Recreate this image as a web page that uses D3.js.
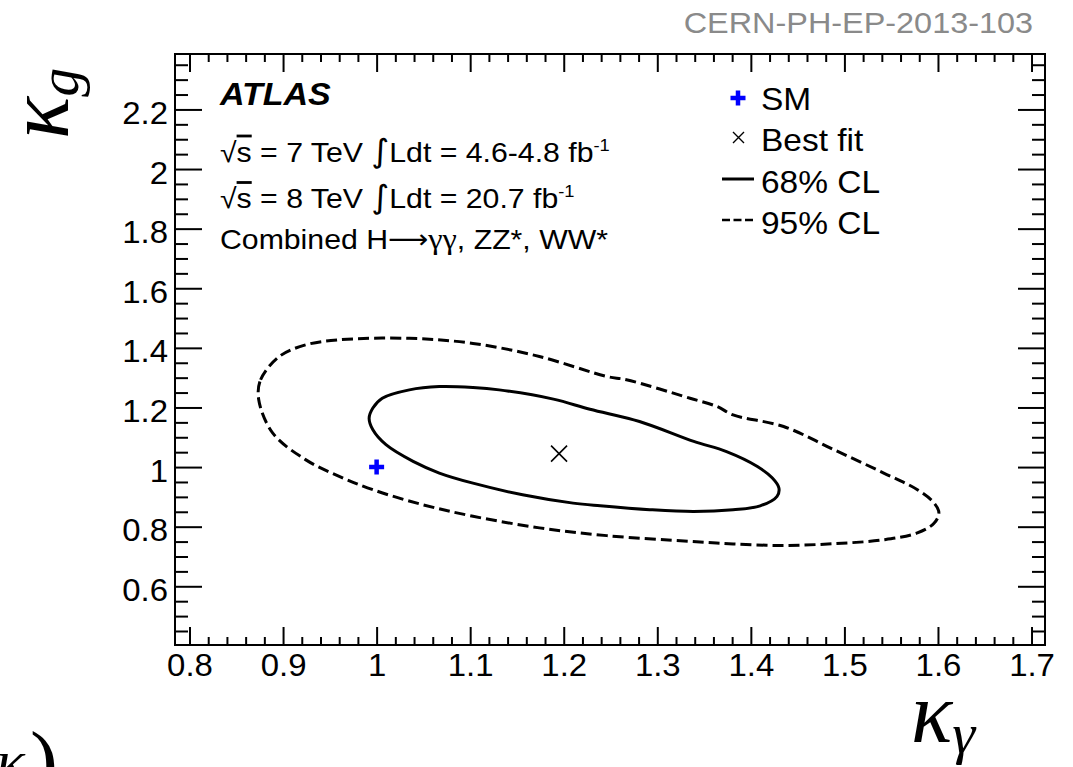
<!DOCTYPE html>
<html>
<head>
<meta charset="utf-8">
<script src="https://cdn.jsdelivr.net/npm/d3@7"></script>
<style>
  html, body { margin: 0; padding: 0; background: #fff; }
  svg { display: block; }
  text { font-family: "Liberation Sans", Arial, Helvetica, sans-serif; fill: #000; }
  .math { font-family: "Liberation Serif", "Times New Roman", serif; font-style: italic; }
</style>
</head>
<body>
<svg id="chart" width="1073" height="767"></svg>
<script>
// Likelihood contours in the (kappa_gamma, kappa_g) plane
const kappaGammaRange = [0.7845, 1.7144];
const kappaGRange = [0.403, 2.386];

const xMajorTicks = [0.8, 0.9, 1.0, 1.1, 1.2, 1.3, 1.4, 1.5, 1.6, 1.7];
const yMajorTicks = [0.6, 0.8, 1.0, 1.2, 1.4, 1.6, 1.8, 2.0, 2.2];

// 68% CL contour (kappa_gamma, kappa_g)
const cl68Gamma = [0.992, 0.996, 1.006, 1.035, 1.067, 1.103, 1.131, 1.189, 1.228, 1.281, 1.339, 1.374, 1.407, 1.423, 1.430, 1.428, 1.410, 1.381, 1.339, 1.292, 1.239, 1.210, 1.156, 1.103, 1.067, 1.039, 1.010, 0.996];
const cl68G     = [1.164, 1.198, 1.231, 1.259, 1.270, 1.267, 1.259, 1.228, 1.194, 1.153, 1.086, 1.052, 1.002, 0.963, 0.930, 0.902, 0.870, 0.857, 0.851, 0.857, 0.870, 0.879, 0.907, 0.946, 0.980, 1.019, 1.075, 1.125];

// 95% CL contour (kappa_gamma, kappa_g)
const cl95Gamma = [0.874, 0.876, 0.896, 0.924, 0.960, 1.035, 1.103, 1.174, 1.246, 1.267, 1.335, 1.364, 1.381, 1.435, 1.489, 1.542, 1.578, 1.596, 1.601, 1.596, 1.578, 1.542, 1.489, 1.435, 1.381, 1.335, 1.246, 1.174, 1.103, 1.049, 0.996, 0.960, 0.924, 0.889];
const cl95G     = [1.226, 1.293, 1.371, 1.410, 1.427, 1.432, 1.415, 1.371, 1.304, 1.293, 1.231, 1.203, 1.175, 1.136, 1.058, 0.980, 0.924, 0.879, 0.846, 0.812, 0.779, 0.756, 0.743, 0.737, 0.742, 0.751, 0.770, 0.796, 0.835, 0.874, 0.924, 0.969, 1.025, 1.114];

const bestFit = [1.195, 1.045];
const smPoint = [1.0, 1.0];

const legendLabels = ["SM", "Best fit", "68% CL", "95% CL"];
const infoLines = ["ATLAS", "√s = 7 TeV ∫Ldt = 4.6-4.8 fb", "√s = 8 TeV ∫Ldt = 20.7 fb", "Combined H", ", ZZ*, WW*"];

const frame = { left: 175, right: 1045, top: 54, bottom: 645 };
const stretch = 1.08;   // horizontal text widening

const svg = d3.select("#chart");
svg.append("rect").attr("width", 1073).attr("height", 767).attr("fill", "#fff");

const x = d3.scaleLinear().domain(kappaGammaRange).range([frame.left, frame.right]);
const y = d3.scaleLinear().domain(kappaGRange).range([frame.bottom, frame.top]);

function minorTicks(start, stop, step, majors) {
  const out = [];
  const n = Math.round((stop - start) / step);
  for (let i = 0; i <= n; i++) {
    const v = +(start + i * step).toFixed(4);
    if (!majors.some(m => Math.abs(m - v) < 1e-6)) out.push(v);
  }
  return out;
}
const xMinor = minorTicks(0.8, 1.7, 0.02, xMajorTicks);
const yMinor = minorTicks(0.45, 2.35, 0.05, yMajorTicks);

const W = frame.right - frame.left, H = frame.bottom - frame.top;
const fmt = d => (Math.round(d * 10) / 10).toString();

function styleAxis(g) {
  g.select(".domain").remove();
  g.selectAll("line").attr("stroke", "#000").attr("stroke-width", 2);
}

// bottom axis (labels) + top mirror
const gx = svg.append("g").attr("transform", `translate(0,${frame.bottom})`)
  .call(d3.axisBottom(x).tickValues(xMajorTicks).tickSize(-18).tickFormat(fmt)).call(styleAxis);
gx.selectAll("text")
  .attr("y", 0).attr("dy", 0).attr("x", 0)
  .attr("transform", `translate(0,31) scale(${stretch},1)`)
  .style("font-size", "30.5px").style("font-family", null);
svg.append("g").attr("transform", `translate(0,${frame.bottom})`)
  .call(d3.axisBottom(x).tickValues(xMinor).tickSize(-8).tickFormat("")).call(styleAxis);
svg.append("g").attr("transform", `translate(0,${frame.top})`)
  .call(d3.axisTop(x).tickValues(xMajorTicks).tickSize(-18).tickFormat("")).call(styleAxis);
svg.append("g").attr("transform", `translate(0,${frame.top})`)
  .call(d3.axisTop(x).tickValues(xMinor).tickSize(-8).tickFormat("")).call(styleAxis);

// left axis (labels) + right mirror
const gy = svg.append("g").attr("transform", `translate(${frame.left},0)`)
  .call(d3.axisLeft(y).tickValues(yMajorTicks).tickSize(-27).tickFormat(fmt)).call(styleAxis);
gy.selectAll("text")
  .attr("x", 0).attr("dy", 0).attr("y", 0)
  .attr("transform", `translate(-7,14) scale(${stretch},1)`)
  .style("font-size", "30.5px").style("font-family", null);
svg.append("g").attr("transform", `translate(${frame.left},0)`)
  .call(d3.axisLeft(y).tickValues(yMinor).tickSize(-13).tickFormat("")).call(styleAxis);
svg.append("g").attr("transform", `translate(${frame.right},0)`)
  .call(d3.axisRight(y).tickValues(yMajorTicks).tickSize(-27).tickFormat("")).call(styleAxis);
svg.append("g").attr("transform", `translate(${frame.right},0)`)
  .call(d3.axisRight(y).tickValues(yMinor).tickSize(-13).tickFormat("")).call(styleAxis);

// frame
svg.append("rect").attr("x", frame.left).attr("y", frame.top).attr("width", W).attr("height", H)
  .attr("fill", "none").attr("stroke", "#000").attr("stroke-width", 2);

// contours
const line = d3.line().x(d => x(d[0])).y(d => y(d[1])).curve(d3.curveCatmullRomClosed.alpha(0.5));
const c68 = cl68Gamma.map((v, i) => [v, cl68G[i]]);
const c95 = cl95Gamma.map((v, i) => [v, cl95G[i]]);
svg.append("path").attr("d", line(c95)).attr("fill", "none").attr("stroke", "#000")
  .attr("stroke-width", 3).attr("stroke-dasharray", "11,5");
svg.append("path").attr("d", line(c68)).attr("fill", "none").attr("stroke", "#000")
  .attr("stroke-width", 3);

// markers
function drawCross(g, cx, cy, r, w) {
  g.append("path").attr("d", `M${cx - r},${cy - r}L${cx + r},${cy + r}M${cx - r},${cy + r}L${cx + r},${cy - r}`)
    .attr("stroke", "#000").attr("stroke-width", w).attr("fill", "none");
}
function drawPlus(g, cx, cy) {
  g.append("path").attr("d", `M${cx - 7.5},${cy}L${cx + 7.5},${cy}M${cx},${cy - 7.5}L${cx},${cy + 7.5}`)
    .attr("stroke", "#0000ff").attr("stroke-width", 4.5).attr("fill", "none");
}
drawCross(svg, x(bestFit[0]), y(bestFit[1]), 8, 1.6);
drawPlus(svg, x(smPoint[0]), y(smPoint[1]));

// text helper with horizontal widening
function label(txt, px, py, size, opts = {}) {
  const t = svg.append("text")
    .attr("transform", `translate(${px},${py}) scale(${stretch},1)`)
    .style("font-size", size + "px");
  if (opts.anchor) t.attr("text-anchor", opts.anchor);
  if (opts.fill) t.style("fill", opts.fill);
  if (opts.weight) t.style("font-weight", opts.weight);
  if (opts.italic) t.style("font-style", "italic");
  t.text(txt);
  return t;
}

// experiment and dataset info
label(infoLines[0], 220, 105, 31.5, { weight: "bold", italic: true });
function infoLine(txt, py) {
  const t = label("", 220, py, 28);
  const parts = txt.split("√s");
  t.append("tspan").text("√");
  t.append("tspan").style("text-decoration", "overline").text("s");
  const rest = parts[1].split("∫");
  t.append("tspan").text(rest[0]);
  t.append("tspan").style("font-family", "'DejaVu Sans'").style("font-size", "32px").text("∫");
  t.append("tspan").text(rest[1]);
  t.append("tspan").attr("dy", -11).style("font-size", "17px").text("-1");
}
infoLine(infoLines[1], 161.5);
infoLine(infoLines[2], 208);
const l3 = label("", 220, 249, 28);
l3.append("tspan").text(infoLines[3]);
l3.append("tspan").style("font-family", "'DejaVu Sans'").style("font-size", "26px").attr("dy", -1).text("⟶");
l3.append("tspan").style("font-family", "'Liberation Serif'").style("font-size", "30px").attr("dy", 1).text("γγ");
l3.append("tspan").text(infoLines[4]);

// legend
const legX = 761;
const legY = [110, 151, 192.5, 233.5];
drawPlus(svg, 738, legY[0] - 12);
drawCross(svg, 738.5, legY[1] - 13.5, 5.5, 1.4);
svg.append("line").attr("x1", 722).attr("x2", 754).attr("y1", 179).attr("y2", 179)
  .attr("stroke", "#000").attr("stroke-width", 3);
svg.append("line").attr("x1", 722).attr("x2", 754).attr("y1", 220).attr("y2", 220)
  .attr("stroke", "#000").attr("stroke-width", 2.5).attr("stroke-dasharray", "8,3.5");
legendLabels.forEach((s, i) => label(s, legX, legY[i], 31));

// preprint number
label("CERN-PH-EP-2013-103", 1033, 33, 30, { anchor: "end", fill: "#8a8a8a" });

// axis titles
const yTitle = svg.append("text").attr("class", "math")
  .attr("transform", "translate(68,139) rotate(-90)");
yTitle.append("tspan").style("font-size", "88px").text("κ");
yTitle.append("tspan").style("font-size", "58px").attr("dy", 10).text("g");

const xTitle = svg.append("text").attr("class", "math")
  .attr("transform", "translate(911,742)");
xTitle.append("tspan").style("font-size", "86px").text("κ");
xTitle.append("tspan").style("font-size", "58px").attr("dy", 11).text("γ");

// fragment of a neighbouring formula at the lower edge
svg.append("text").attr("class", "math").attr("transform", "translate(-4,781)")
  .style("font-size", "60px").text("κ");
svg.append("text").attr("class", "math").attr("transform", "translate(30,790)")
  .style("font-style", "normal").style("font-size", "84px").text(")");
</script>
</body>
</html>
